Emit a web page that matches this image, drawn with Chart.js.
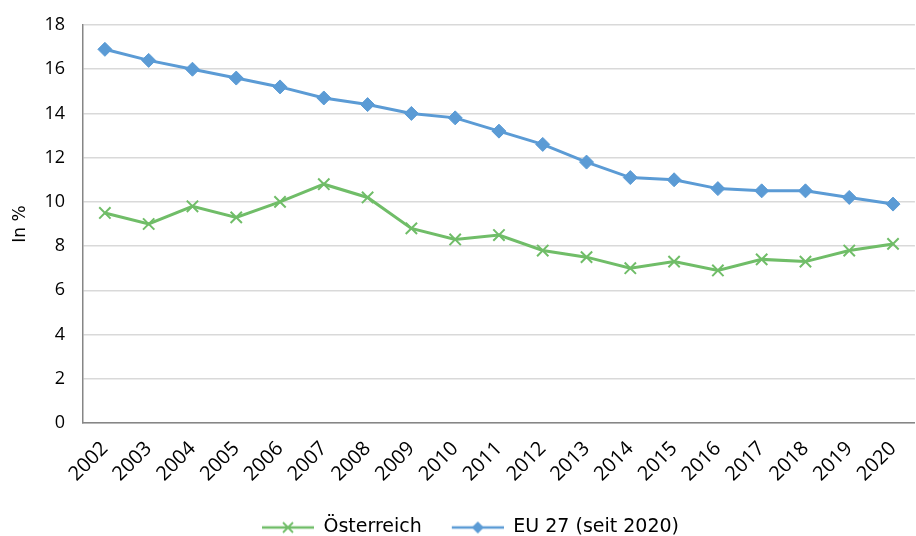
<!DOCTYPE html>
<html>
<head>
<meta charset="utf-8">
<script src="https://cdn.jsdelivr.net/npm/chart.js@4.4.0/dist/chart.umd.min.js"></script>
<style>
  html, body { margin: 0; padding: 0; background: #fff; }
  #wrap { width: 916px; height: 536px; }
</style>
</head>
<body>
<div id="wrap"><canvas id="chart"></canvas></div>
<script>
const years = ["2002", "2003", "2004", "2005", "2006", "2007", "2008", "2009", "2010",
  "2011", "2012", "2013", "2014", "2015", "2016", "2017", "2018", "2019", "2020"];
const oesterreich = [9.5, 9.0, 9.8, 9.3, 10.0, 10.8, 10.2, 8.8, 8.3, 8.5, 7.8, 7.5, 7.0, 7.3, 6.9, 7.4, 7.3, 7.8, 8.1];
const eu27 = [16.9, 16.4, 16.0, 15.6, 15.2, 14.7, 14.4, 14.0, 13.8, 13.2, 12.6, 11.8, 11.1, 11.0, 10.6, 10.5, 10.5, 10.2, 9.9];

const green = "#70bd68";
const blue = "#5b9bd5";
const font = "'Open Sans', 'DejaVu Sans', sans-serif";
const wideFont = "'DejaVu Sans', sans-serif";

// legend icon: short line with the marker in the middle,
// blank space on the left works as the gap between legend items
const gap = 25;
function legendIcon(color, kind) {
  const c = document.createElement("canvas");
  c.width = gap + 52; c.height = 16;
  const g = c.getContext("2d");
  g.translate(gap, 0);
  g.strokeStyle = color;
  g.lineWidth = 2.5;
  g.beginPath(); g.moveTo(0, 8); g.lineTo(52, 8); g.stroke();
  if (kind === "x") {
    g.lineWidth = 1.8;
    g.beginPath();
    g.moveTo(21, 3); g.lineTo(31, 13);
    g.moveTo(31, 3); g.lineTo(21, 13);
    g.stroke();
  } else {
    g.fillStyle = color;
    g.beginPath();
    g.moveTo(26, 2); g.lineTo(32, 8); g.lineTo(26, 14); g.lineTo(20, 8);
    g.closePath(); g.fill();
  }
  return c;
}
const icons = [legendIcon(green, "x"), legendIcon(blue, "d")];

new Chart(document.getElementById("chart"), {
  type: "line",
  data: {
    labels: years,
    datasets: [
      {
        label: "Österreich",
        data: oesterreich,
        borderColor: green,
        backgroundColor: green,
        borderWidth: 3,
        pointStyle: "crossRot",
        pointRadius: 8,
        pointBorderWidth: 2,
        tension: 0,
      },
      {
        label: "EU 27 (seit 2020)",
        data: eu27,
        borderColor: blue,
        backgroundColor: blue,
        borderWidth: 3,
        pointStyle: "rectRot",
        pointRadius: 7,
        pointBorderWidth: 1,
        tension: 0,
      },
    ],
  },
  options: {
    responsive: true,
    maintainAspectRatio: false,
    animation: false,
    layout: { autoPadding: false, padding: { top: 25, right: 0, left: 0, bottom: -11 } },
    plugins: {
      tooltip: { enabled: false },
      legend: {
        position: "bottom",
        labels: {
          color: "#000",
          font: { family: wideFont, size: 19 },
          usePointStyle: true,
          pointStyleWidth: gap + 52,
          boxHeight: 16,
          padding: 5,
          generateLabels(chart) {
            return chart.data.datasets.map((ds, i) => ({
              text: ds.label,
              pointStyle: icons[i],
              fillStyle: ds.borderColor,
              strokeStyle: ds.borderColor,
              lineWidth: 0,
              hidden: false,
              datasetIndex: i,
            }));
          },
        },
      },
    },
    scales: {
      x: {
        offset: true,
        afterFit(scale) { scale.height = 90; },
        grid: { display: false },
        border: { display: true, color: "#868686", width: 1.5 },
        ticks: {
          color: "#000",
          font: { family: font, size: 20 },
          minRotation: 45,
          maxRotation: 45,
          padding: 6,
        },
      },
      y: {
        min: 0,
        max: 18,
        afterFit(scale) {
          scale.width = 83;
          scale.paddingTop = 0;
          scale.paddingBottom = 0;
        },
        grid: { color: "#d9d9d9", lineWidth: 1.5, drawTicks: false },
        border: { display: true, color: "#868686", width: 1.5 },
        ticks: {
          stepSize: 2,
          color: "#000",
          font: { family: font, size: 18 },
          padding: 18,
        },
        title: {
          display: true,
          text: "In %",
          color: "#000",
          font: { family: wideFont, size: 17 },
          padding: { top: 10, bottom: 0 },
        },
      },
    },
  },
});
</script>
</body>
</html>
